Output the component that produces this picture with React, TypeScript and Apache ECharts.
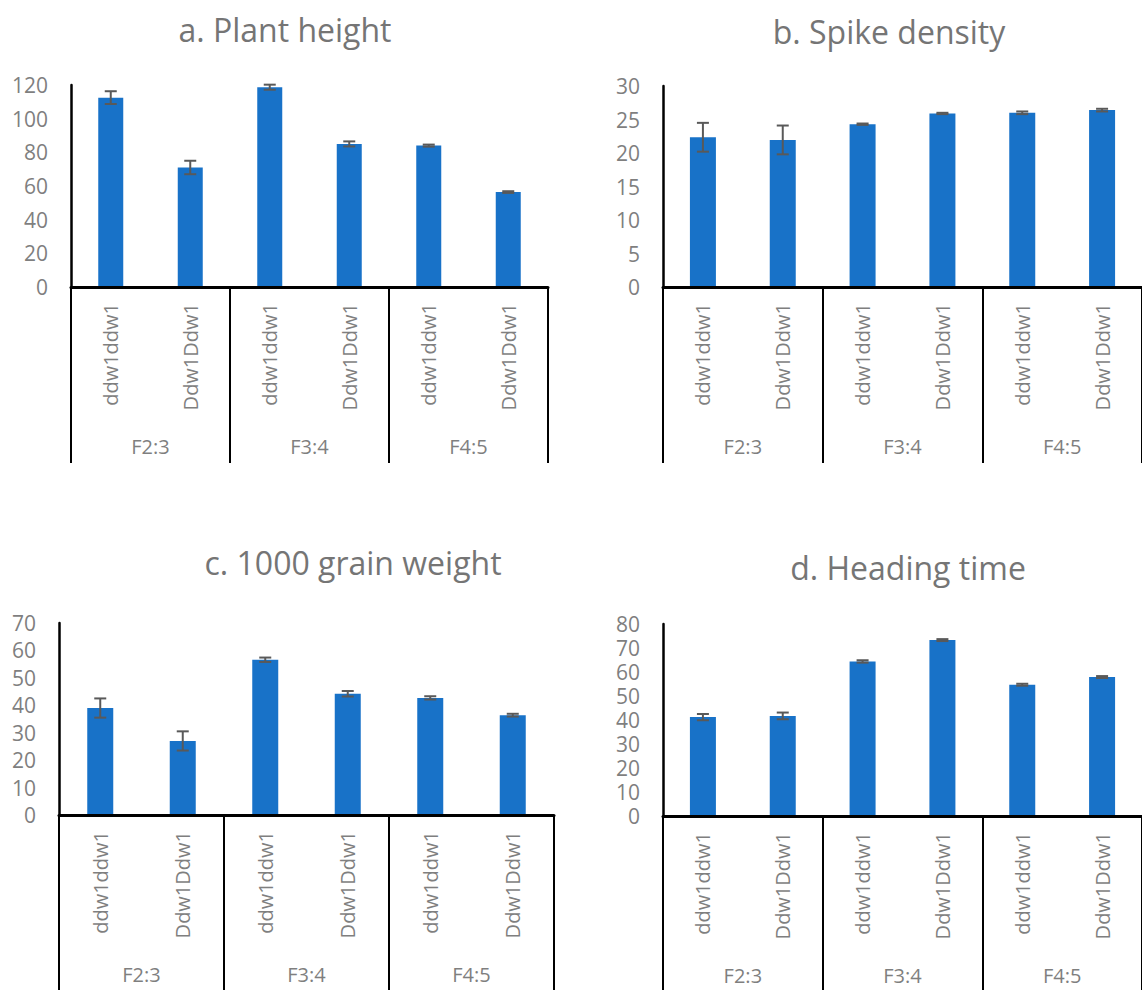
import React, { useEffect, useRef } from "react";
import * as echarts from "echarts";

const categories = ["ddw1ddw1", "Ddw1Ddw1", "ddw1ddw1", "Ddw1Ddw1", "ddw1ddw1", "Ddw1Ddw1"];
const groups = ["F2:3", "F3:4", "F4:5"];

const heightVals = [112.5, 71, 118.7, 85, 84, 56.4];
const heightErr = [3.8, 4, 1.5, 1.5, 0.6, 0.5];
const spikeVals = [22.35, 21.95, 24.3, 25.9, 26.0, 26.4];
const spikeErr = [2.15, 2.15, 0.1, 0.1, 0.2, 0.2];
const grainVals = [39.0, 27.0, 56.6, 44.2, 42.7, 36.4];
const grainErr = [3.5, 3.5, 0.8, 1.0, 0.6, 0.5];
const headingVals = [41.2, 41.7, 64.4, 73.3, 54.7, 57.9];
const headingErr = [1.3, 1.4, 0.5, 0.4, 0.4, 0.4];

const titles = ["a. Plant height", "b. Spike density", "c. 1000 grain weight", "d. Heading time"];
const yMax = [120, 30, 70, 80];
const yInterval = [20, 5, 10, 10];

const FONT = "'Open Sans', sans-serif";
const GREY = "#7f7f7f";
const BLUE = "#1872C8";

export default function App() {
  const ref = useRef<HTMLDivElement>(null);
  useEffect(() => {
    if (!ref.current) return;
    const chart = echarts.init(ref.current, null, { renderer: "svg" });
    const panels = [
      { vals: heightVals, err: heightErr, grid: { left: 71, top: 85, width: 477, height: 202 }, title: [285, 29], barW: 25 },
      { vals: spikeVals, err: spikeErr, grid: { left: 663, top: 86, width: 486, height: 201 }, title: [889, 31], barW: 26 },
      { vals: grainVals, err: grainErr, grid: { left: 59, top: 623, width: 495, height: 192 }, title: [353, 562], barW: 26 },
      { vals: headingVals, err: headingErr, grid: { left: 663, top: 624, width: 486, height: 192 }, title: [908, 567], barW: 26 },
    ];
    const grids: any[] = [];
    const xAxes: any[] = [];
    const yAxes: any[] = [];
    const series: any[] = [];
    const graphics: any[] = [];
    panels.forEach((p, g) => {
      grids.push({ ...p.grid, containLabel: false });
      xAxes.push({
        type: "category",
        gridIndex: g,
        data: categories,
        position: "bottom",
        axisLine: { show: true, lineStyle: { color: "#000", width: 3 } },
        axisTick: { show: false },
        axisLabel: { rotate: 90, margin: 16, color: GREY, fontSize: 20, fontFamily: FONT, interval: 0 },
        z: 5,
      });
      xAxes.push({
        type: "category",
        gridIndex: g,
        data: groups,
        position: "bottom",
        axisLine: { show: false },
        axisTick: { show: true, length: 176, interval: 0, lineStyle: { color: "#000", width: 2 } },
        axisLabel: { margin: 149, color: GREY, fontSize: 20, fontFamily: FONT, interval: 0, lineHeight: 20 },
      });
      yAxes.push({
        type: "value",
        gridIndex: g,
        min: 0,
        max: yMax[g],
        interval: yInterval[g],
        axisLine: { show: true, lineStyle: { color: "#000", width: 2.5 } },
        axisTick: { show: false },
        splitLine: { show: false },
        axisLabel: { margin: 23, color: GREY, fontSize: 21, fontFamily: FONT, lineHeight: 18 },
      });
      series.push({
        type: "bar",
        xAxisIndex: 2 * g,
        yAxisIndex: g,
        data: p.vals,
        barWidth: p.barW,
        itemStyle: { color: BLUE },
        z: 2,
      });
      series.push({
        type: "custom",
        xAxisIndex: 2 * g,
        yAxisIndex: g,
        z: 4,
        data: p.vals.map((v, i) => [i, v - p.err[i], v + p.err[i]]),
        renderItem: (params: any, api: any) => {
          const x = api.value(0);
          const lo = api.coord([x, api.value(1)]);
          const hi = api.coord([x, api.value(2)]);
          const half = 6;
          const st = { stroke: "#595959", lineWidth: 2 };
          return {
            type: "group",
            children: [
              { type: "line", shape: { x1: lo[0], y1: lo[1], x2: hi[0], y2: hi[1] }, style: st },
              { type: "line", shape: { x1: lo[0] - half, y1: lo[1], x2: lo[0] + half, y2: lo[1] }, style: st },
              { type: "line", shape: { x1: hi[0] - half, y1: hi[1], x2: hi[0] + half, y2: hi[1] }, style: st },
            ],
          };
        },
      });
      graphics.push({
        type: "text",
        x: p.title[0],
        y: p.title[1],
        style: {
          text: titles[g],
          fill: "#757575",
          font: `32px ${FONT}`,
          textAlign: "center",
          textVerticalAlign: "middle",
        },
      });
    });
    chart.setOption({
      animation: false,
      backgroundColor: "#fff",
      grid: grids,
      xAxis: xAxes,
      yAxis: yAxes,
      series,
      graphic: graphics,
    });
    return () => chart.dispose();
  }, []);
  return <div ref={ref} style={{ position: "fixed", left: 0, top: 0, width: 1142, height: 990 }} />;
}
